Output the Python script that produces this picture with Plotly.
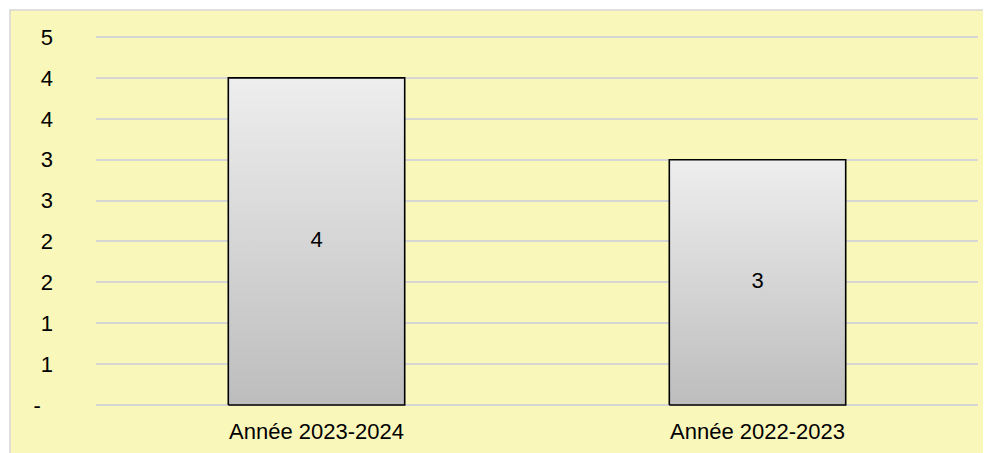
import plotly.graph_objects as go

categories = ["Année 2023-2024", "Année 2022-2023"]
values = [4, 3]
tick_values = [0, 0.5, 1, 1.5, 2, 2.5, 3, 3.5, 4, 4.5]
tick_labels = ["-\u00a0\u00a0", "1", "1", "2", "2", "3", "3", "4", "4", "5"]

YELLOW = "#FAF7BB"
GRID = "#D6D6D6"
FONT = "Liberation Sans, Arial, Helvetica, sans-serif"
FS = 22
HALF = 0.2  # half bar width in category units
EPS = 0.025  # small padding so edge gridlines are kept

fig = go.Figure()

positions = list(range(len(categories)))

# bars: gradient-filled rectangles built from the data values
for i, v in zip(positions, values):
    fig.add_trace(go.Scatter(
        x=[i - HALF, i - HALF, i + HALF, i + HALF, i - HALF],
        y=[0, v, v, 0, 0],
        mode="lines",
        line=dict(width=1.6, color="#000000"),
        fill="toself",
        fillgradient=dict(type="vertical",
                          colorscale=[[0, "#BDBDBD"], [1, "#EEEEEE"]]),
        hoverinfo="skip",
        showlegend=False,
    ))

# value labels centred in the bars
fig.add_trace(go.Scatter(
    x=positions,
    y=[v / 2 for v in values],
    mode="text",
    text=[str(v) for v in values],
    textposition="middle center",
    textfont=dict(color="#000000", size=FS, family=FONT),
    hoverinfo="skip",
    showlegend=False,
))

fig.update_layout(
    width=991,
    height=453,
    margin=dict(l=88, r=21, t=27, b=54),
    paper_bgcolor="white",
    plot_bgcolor=YELLOW,
    font=dict(family=FONT, size=FS, color="#000000"),
    showlegend=False,
    shapes=[dict(
        type="rect", xref="paper", yref="paper",
        x0=-0.0975, x1=1.2, y0=-0.3, y1=1.067,
        fillcolor=YELLOW, line=dict(color=GRID, width=1.5),
        layer="below",
    )],
)

fig.update_xaxes(
    range=[-0.5, 1.5],
    tickmode="array",
    tickvals=positions,
    ticktext=categories,
    showgrid=False,
    zeroline=False,
    showline=False,
    ticks="",
    ticklabelstandoff=9,
)

fig.update_yaxes(
    range=[-EPS, 4.5 + EPS],
    tickmode="array",
    tickvals=tick_values,
    ticktext=tick_labels,
    showgrid=True,
    gridcolor=GRID,
    gridwidth=1.5,
    zeroline=False,
    showline=False,
    ticks="",
    ticklabelstandoff=42,
)

fig.write_html("out.html")
